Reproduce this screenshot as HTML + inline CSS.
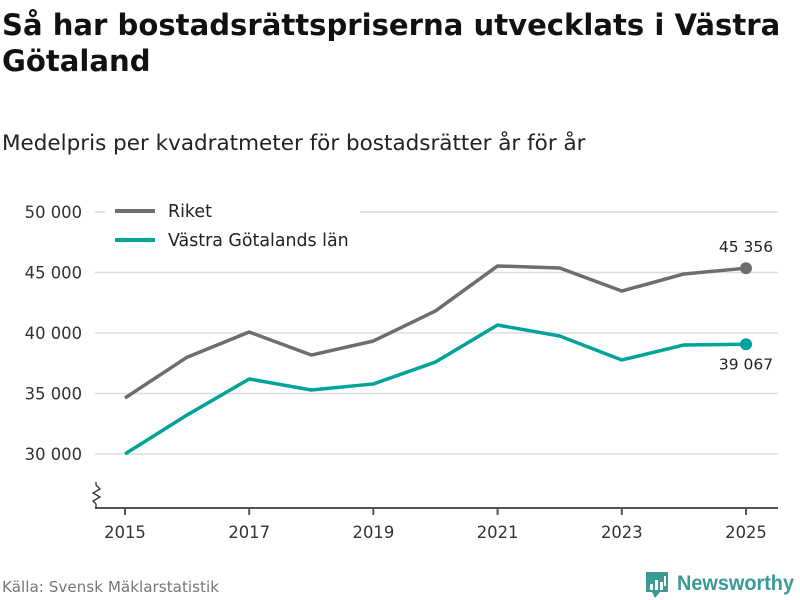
<!DOCTYPE html>
<html><head><meta charset="utf-8"><style>
body{margin:0;width:800px;height:600px;background:#fff;font-family:"Liberation Sans","DejaVu Sans",sans-serif;overflow:hidden;position:relative}
#t{position:absolute;left:2px;top:7px;font-size:29.1px;font-weight:bold;line-height:36px;color:#111;margin:0;font-family:"DejaVu Sans","Liberation Sans",sans-serif;white-space:nowrap}
#s{position:absolute;left:2px;top:131px;font-size:21.5px;color:#222;font-family:"DejaVu Sans","Liberation Sans",sans-serif}
#src{position:absolute;left:2px;top:578px;font-size:15.2px;color:#777;font-family:"DejaVu Sans",sans-serif}
</style></head><body>
<h1 id="t">Så har bostadsrättspriserna utvecklats i Västra<br>Götaland</h1>
<div id="s">Medelpris per kvadratmeter för bostadsrätter år för år</div>
<div id="src">Källa: Svensk Mäklarstatistik</div>
<svg id="c" width="800" height="600" style="position:absolute;left:0;top:0" font-family="DejaVu Sans, Liberation Sans, sans-serif"></svg>
<script>
const years=[2015,2016,2017,2018,2019,2020,2021,2022,2023,2024,2025];
const riket=[34630,38000,40080,38180,39340,41820,45540,45370,43470,44880,45356];
const vg=[30000,33220,36200,35290,35790,37600,40660,39750,37770,39010,39067];
const yTicks=[30000,35000,40000,45000,50000];
const yTickLabels=["30 000","35 000","40 000","45 000","50 000"];
const xTicks=[2015,2017,2019,2021,2023,2025];
const endLabels=["45 356","39 067"];
const NS="http://www.w3.org/2000/svg";
const svg=document.getElementById('c');
const X=v=>125+(v-2015)*62.1;
const Y=v=>454-(v-30000)*60.5/5000;
function mk(t,a,p){const e=document.createElementNS(NS,t);for(const k in a)e.setAttribute(k,a[k]);(p||svg).appendChild(e);return e;}
yTicks.forEach((v,i)=>{
 const l=mk('line',{x1:95,x2:778,y1:Y(v),y2:Y(v),stroke:'#ddd','stroke-width':1.5});
 
 
 const t=mk('text',{x:82,y:Y(v)+6,'text-anchor':'end','font-size':16.4,fill:'#333'});t.textContent=yTickLabels[i];
 
 
});
const ax=mk('line',{x1:95,x2:778,y1:508,y2:508,stroke:'#555','stroke-width':2});


const sq=mk('path',{d:'M96,508 L96,504 L93,501 L100,497 L93,493 L100,489 L96,485 L96,482',fill:'none',stroke:'#333','stroke-width':1.3});


xTicks.forEach(v=>{
 const l=mk('line',{x1:X(v),x2:X(v),y1:508,y2:515,stroke:'#555','stroke-width':2});
 
 
 const t=mk('text',{x:X(v),y:538,'text-anchor':'middle','font-size':16.4,fill:'#333'});t.textContent=v;
 
 
});
function series(vals,col,name){
 const p=mk('polyline',{points:vals.map((v,i)=>X(years[i])+','+Y(v)).join(' '),fill:'none',stroke:col,'stroke-width':3.5,'stroke-linejoin':'round'});
 
 
 const n=vals.length-1;
 const c=mk('circle',{cx:X(years[n]),cy:Y(vals[n]),r:6,fill:col});
 
 
}
series(riket,'#6d6c72','riket');
series(vg,'#00a399','vastra-gotaland');
const n=years.length-1;
let e1=mk('text',{x:X(years[n]),y:Y(riket[n])-16,'text-anchor':'middle','font-size':15.5,fill:'#222'});e1.textContent=endLabels[0];


let e2=mk('text',{x:X(years[n]),y:Y(vg[n])+25,'text-anchor':'middle','font-size':15.5,fill:'#222'});e2.textContent=endLabels[1];


mk('rect',{x:105,y:198,width:255,height:58,fill:'#fff'});
[['Riket','#6d6c72',211],['Västra Götalands län','#00a399',240]].forEach(d=>{
 const l=mk('line',{x1:115,x2:155,y1:d[2],y2:d[2],stroke:d[1],'stroke-width':4});
 
 
 const t=mk('text',{x:168,y:d[2]+6,'font-size':17.4,fill:'#222'});t.textContent=d[0];
 
 
});
const g=mk('g',{});


mk('path',{d:'M646,572 h22 v20 h-8 l-5,6 l-3,-6 h-6 z',fill:'#3a9a94'},g);
[[650,584,3,6],[655,580,3,10],[660,582,3,8],[664,576,2,10]].forEach(r=>mk('rect',{x:r[0],y:r[1],width:r[2],height:r[3],fill:'#fff'},g));
const lt=mk('text',{x:677,y:590,'font-size':21,'font-weight':'bold',fill:'#3a9a94','font-family':'Liberation Sans, sans-serif',textLength:117,lengthAdjust:'spacingAndGlyphs'},g);lt.textContent='Newsworthy';
</script>
</body></html>
